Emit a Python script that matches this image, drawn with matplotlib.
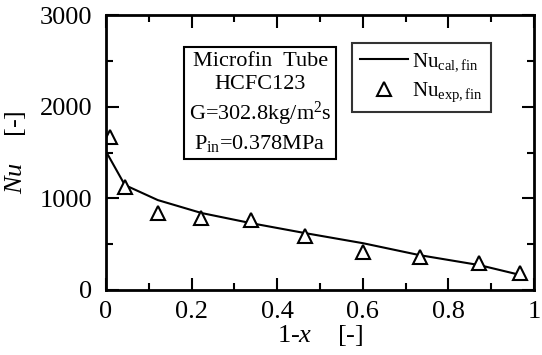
import matplotlib
matplotlib.use('Agg')
import matplotlib.pyplot as plt
import numpy as np

plt.rcParams['font.family'] = 'Liberation Serif'
plt.rcParams['mathtext.fontset'] = 'custom'
plt.rcParams['mathtext.rm'] = 'Liberation Serif'
plt.rcParams['mathtext.it'] = 'Liberation Serif:italic'

# calculated curve
x_cal = [0.005, 0.044, 0.121, 0.223, 0.338, 0.466, 0.601, 0.733, 0.872, 0.968]
nu_cal = [1470, 1145, 981, 840, 730, 620, 510, 380, 272, 164]

# experimental points
x_exp = [0.009, 0.044, 0.121, 0.223, 0.338, 0.466, 0.601, 0.733, 0.872, 0.968]
nu_exp = [1670, 1125, 840, 785, 763, 590, 414, 360, 294, 185]

fig = plt.figure(figsize=(5.42, 3.55), dpi=100)
ax = fig.add_axes([106/542, 1-290/355, 428/542, 275/355])

ax.plot(x_cal, nu_cal, 'k-', lw=1.5, label=r'Nu$_{\rm cal,fin}$')
ax.plot(x_exp, nu_exp, 'k^', ms=10, mfc='white', mew=1.5, ls='none',
        label=r'Nu$_{\rm exp,fin}$')

ax.set_xlim(0, 1)
ax.set_ylim(0, 3000)
ax.set_xticks(np.arange(0, 1.01, 0.2))
ax.set_xticklabels(['0', '0.2', '0.4', '0.6', '0.8', '1'])
ax.set_xticks(np.arange(0.1, 1.0, 0.2), minor=True)
ax.set_yticks([0, 1000, 2000, 3000])
ax.set_yticks([500, 1500, 2500], minor=True)
ax.tick_params(which='both', direction='in', top=True, right=True,
               labelsize=19, width=1.5)
ax.tick_params(which='major', length=9)
ax.tick_params(which='minor', length=5)
ax.tick_params(axis='x', which='major', pad=8)
ax.tick_params(axis='y', which='major', pad=10)
for s in ax.spines.values():
    s.set_linewidth(2)

ax.set_xlabel(r'$\mathit{1}$-$\mathit{x}$    [-]', fontsize=19, labelpad=0)
ax.set_ylabel(r'$\mathit{Nu}$    [-]', fontsize=19, labelpad=8)

ax.text(0.36, 0.68, 'Microfin  Tube\nHCFC123\nG=302.8kg/m$^2$s\nP$_{\\rm in}$=0.378MPa',
        transform=ax.transAxes, ha='center', va='center', fontsize=16,
        linespacing=1.3,
        bbox=dict(boxstyle='square,pad=0.2', fc='white', ec='black', lw=1.5))

leg = ax.legend(loc='upper right', bbox_to_anchor=(0.9, 0.898), fontsize=15,
                frameon=True, fancybox=False, handlelength=2.3,
                borderpad=0.4, labelspacing=0.35, handletextpad=0.2,
                borderaxespad=0)
leg.get_frame().set_edgecolor('black')
leg.get_frame().set_linewidth(1.5)

fig.savefig('out.png', dpi=100)
